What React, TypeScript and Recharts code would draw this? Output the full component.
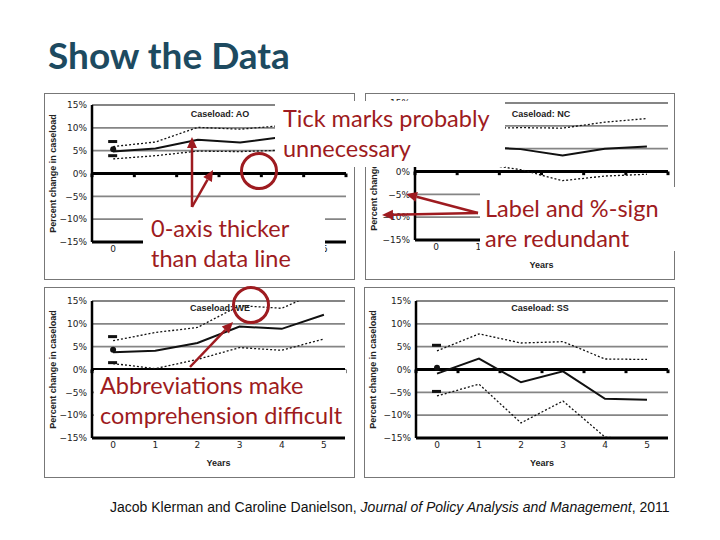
import React from 'react';
import { LineChart, Line, XAxis, YAxis, CartesianGrid, ReferenceLine } from 'recharts';

// x categories and axis ticks shared by the four panels
const years = [0, 1, 2, 3, 4, 5];
const yTicks = [-15, -10, -5, 0, 5, 10, 15];
const tickBounds = [-0.5, 0.5, 1.5, 2.5, 3.5, 4.5, 5.5];

// Caseload: AO
const aoUpper = [5.9, 6.9, 10.1, 9.7, 10.5, 11.0];
const aoMid = [4.8, 5.5, 7.4, 6.8, 8.0, 8.3];
const aoLower = [3.2, 3.9, 4.9, 4.8, 5.1, 5.3];
const aoMarks = [7.0, 5.3, 3.9];

// Caseload: NC
const ncUpper = [9.2, 9.4, 9.6, 9.5, 10.8, 11.6];
const ncMid = [5.6, 5.4, 4.9, 3.5, 5.0, 5.5];
const ncLower = [2.0, 1.8, 0.4, -2.0, -1.0, -0.6];
const ncMarks = [8.0, 5.8, 2.5];

// Caseload: WE
const weUpper = [6.3, 8.1, 9.2, 14.0, 13.4, 17.5];
const weMid = [3.8, 4.1, 5.8, 9.4, 8.9, 12.0];
const weLower = [1.3, 0.2, 2.2, 4.8, 4.2, 6.7];
const weMarks = [7.2, 4.3, 1.5];

// Caseload: SS
const ssUpper = [4.1, 7.8, 5.8, 6.1, 2.3, 2.2];
const ssMid = [-0.9, 2.4, -2.8, -0.4, -6.4, -6.6];
const ssLower = [-5.8, -3.2, -11.7, -6.9, -14.8, -15.6];
const ssMarks = [5.3, 0.4, -4.8];

const RED = '#9e1b20';
const axisFont = 'DejaVu Sans, sans-serif';
const labelFont = 'Liberation Sans, Arial, sans-serif';

const fmtPct = (v: number) => (v < 0 ? `\u2212${-v}%` : `${v}%`);

const dashDot = (p: any) => {
  if (p.value == null || p.cy == null) return <g key={`e${p.index}`} />;
  return <rect key={`d${p.index}`} x={p.cx - 5} y={p.cy - 1.5} width={9} height={3} fill="#111" />;
};

const roundDot = (p: any) => {
  if (p.value == null || p.cy == null) return <g key={`e${p.index}`} />;
  return <circle key={`c${p.index}`} cx={p.cx} cy={p.cy} r={3} fill="#111" />;
};

const yLabel = (props: any) => {
  const vb = props.viewBox || { x: 0, y: 0, width: 0, height: 0 };
  const cx = vb.x + 9;
  const cy = vb.y + vb.height / 2;
  return (
    <text x={cx} y={cy} transform={`rotate(-90 ${cx} ${cy})`} textAnchor="middle" dominantBaseline="central"
      fontSize={9} fontWeight="bold" fontFamily={labelFont} fill="#222">
      Percent change in caseload
    </text>
  );
};

const xLabel = (props: any) => {
  const vb = props.viewBox || { x: 0, y: 0, width: 0, height: 0 };
  return (
    <text x={vb.x + vb.width / 2} y={vb.y + 25} textAnchor="middle" dominantBaseline="central"
      fontSize={9} fontWeight="bold" fontFamily={labelFont} fill="#222">
      Years
    </text>
  );
};

interface PanelProps {
  name: string;
  upper: number[];
  mid: number[];
  lower: number[];
  marks: number[];
  left: number;
  top: number;
  width: number;
  height: number;
  yw: number;
  margin: { top: number; right: number; bottom: number; left: number };
}

const Panel: React.FC<PanelProps> = ({ name, upper, mid, lower, marks, left, top, width, height, yw, margin }) => {
  const data = years.map((year, i) => ({
    year,
    upper: upper[i],
    mid: mid[i],
    lower: lower[i],
    markHi: i === 0 ? marks[0] : null,
    markMid: i === 0 ? marks[1] : null,
    markLo: i === 0 ? marks[2] : null,
  }));
  return (
    <>
      <div style={{ position: 'absolute', left, top, width, height, boxSizing: 'border-box', border: '1px solid #777' }} />
      <div style={{ position: 'absolute', left, top, width, height }}>
        <LineChart width={width} height={height} data={data} margin={margin}>
          <CartesianGrid vertical={false} stroke="#858585" strokeWidth={1.8} />
          <XAxis type="number" dataKey="year" domain={[-0.5, 5.5]} ticks={years} interval={0}
            tickLine={false} tickSize={2} tickMargin={2} height={30}
            axisLine={{ stroke: '#000', strokeWidth: 3 }}
            tick={{ fontSize: 9, fill: '#222', fontFamily: axisFont }} label={xLabel} />
          <YAxis type="number" domain={[-15, 15]} ticks={yTicks} interval={0} allowDataOverflow
            tickFormatter={fmtPct} tickLine={false} tickSize={3} tickMargin={2} width={yw}
            axisLine={{ stroke: '#000', strokeWidth: 2.5 }}
            tick={{ fontSize: 9, fill: '#222', fontFamily: axisFont }} label={yLabel} />
          <ReferenceLine y={0} stroke="#000" strokeWidth={3} />
          {tickBounds.map((b) => (
            <ReferenceLine key={b} segment={[{ x: b, y: 0 }, { x: b, y: -0.8 }]} stroke="#000" strokeWidth={3} />
          ))}
          <Line type="linear" dataKey="lower" stroke="#111" strokeWidth={1.3} strokeDasharray="2 2" dot={false} activeDot={false} isAnimationActive={false} />
          <Line type="linear" dataKey="upper" stroke="#111" strokeWidth={1.3} strokeDasharray="2 2" dot={false} activeDot={false} isAnimationActive={false} />
          <Line type="linear" dataKey="mid" stroke="#111" strokeWidth={2} dot={false} activeDot={false} isAnimationActive={false} />
          <Line dataKey="markHi" stroke="none" dot={dashDot} activeDot={false} isAnimationActive={false} />
          <Line dataKey="markMid" stroke="none" dot={roundDot} activeDot={false} isAnimationActive={false} />
          <Line dataKey="markLo" stroke="none" dot={dashDot} activeDot={false} isAnimationActive={false} />
        </LineChart>
      </div>
      <div style={{ position: 'absolute', left: left + 176, top: top + 21, transform: 'translate(-50%, -50%)',
        fontFamily: labelFont, fontSize: 9, fontWeight: 'bold', color: '#222', whiteSpace: 'nowrap' }}>
        Caseload: {name}
      </div>
    </>
  );
};

const Arrow: React.FC<{ x1: number; y1: number; x2: number; y2: number }> = ({ x1, y1, x2, y2 }) => {
  const a = Math.atan2(y2 - y1, x2 - x1);
  const len = 11;
  const w = 5;
  const bx = x2 - len * Math.cos(a);
  const by = y2 - len * Math.sin(a);
  const pts = `${x2},${y2} ${bx + w * Math.sin(a)},${by - w * Math.cos(a)} ${bx - w * Math.sin(a)},${by + w * Math.cos(a)}`;
  return (
    <g>
      <line x1={x1} y1={y1} x2={bx} y2={by} stroke={RED} strokeWidth={2.5} />
      <polygon points={pts} fill={RED} />
    </g>
  );
};

const noteStyle: React.CSSProperties = {
  position: 'absolute',
  background: '#fff',
  color: RED,
  fontFamily: 'Lato, sans-serif',
  fontSize: 23.5,
  lineHeight: '29.5px',
  whiteSpace: 'nowrap',
  boxSizing: 'border-box',
};

const App: React.FC = () => {
  return (
    <div style={{ position: 'absolute', left: 0, top: 0, width: 720, height: 540, background: '#fff', overflow: 'hidden' }}>
      <div style={{ position: 'absolute', left: 48, top: 36, fontFamily: 'Lato, sans-serif', fontWeight: 'bold',
        fontSize: 37, lineHeight: '37px', color: '#1d4a60' }}>
        Show the Data
      </div>

      <Panel name="AO" upper={aoUpper} mid={aoMid} lower={aoLower} marks={aoMarks}
        left={44} top={93} width={311} height={187} yw={48} margin={{ top: 12, right: 9, bottom: 8, left: 0 }} />
      <Panel name="NC" upper={ncUpper} mid={ncMid} lower={ncLower} marks={ncMarks}
        left={365} top={93} width={310} height={187} yw={50} margin={{ top: 10, right: 7, bottom: 10, left: 0 }} />
      <Panel name="WE" upper={weUpper} mid={weMid} lower={weLower} marks={weMarks}
        left={44} top={287} width={311} height={191} yw={48} margin={{ top: 14, right: 10, bottom: 10, left: 0 }} />
      <Panel name="SS" upper={ssUpper} mid={ssMid} lower={ssLower} marks={ssMarks}
        left={364} top={287} width={311} height={191} yw={52} margin={{ top: 14, right: 7, bottom: 10, left: 0 }} />

      <div style={{ ...noteStyle, left: 275, top: 101, width: 230, height: 66, padding: '3px 0 0 8px' }}>
        Tick marks probably<br />unnecessary
      </div>
      <div style={{ ...noteStyle, left: 143, top: 209, width: 182, height: 69, padding: '5px 0 0 8px' }}>
        0-axis thicker<br />than data line
      </div>
      <div style={{ ...noteStyle, left: 480, top: 187, width: 205, height: 64, padding: '7px 0 0 5px' }}>
        Label and %-sign<br />are redundant
      </div>
      <div style={{ ...noteStyle, left: 94, top: 370, width: 252, height: 66, padding: '1px 0 0 6px' }}>
        Abbreviations make<br />comprehension difficult
      </div>

      <svg width={720} height={540} style={{ position: 'absolute', left: 0, top: 0 }}>
        <Arrow x1={192} y1={207} x2={192} y2={137} />
        <Arrow x1={192} y1={207} x2={213} y2={170} />
        <Arrow x1={478} y1={213} x2={382} y2={215} />
        <Arrow x1={478} y1={213} x2={406} y2={194} />
        <Arrow x1={190} y1={367} x2={233} y2={322} />
        <circle cx={259} cy={171} r={17.5} fill="none" stroke={RED} strokeWidth={3} />
        <circle cx={251} cy={305} r={17.5} fill="none" stroke={RED} strokeWidth={3} />
      </svg>

      <div style={{ position: 'absolute', left: 110, top: 499, fontFamily: labelFont, fontSize: 14,
        lineHeight: '16px', color: '#111', whiteSpace: 'nowrap' }}>
        Jacob Klerman and Caroline Danielson, <i>Journal of Policy Analysis and Management</i>, 2011
      </div>
    </div>
  );
};

export default App;
